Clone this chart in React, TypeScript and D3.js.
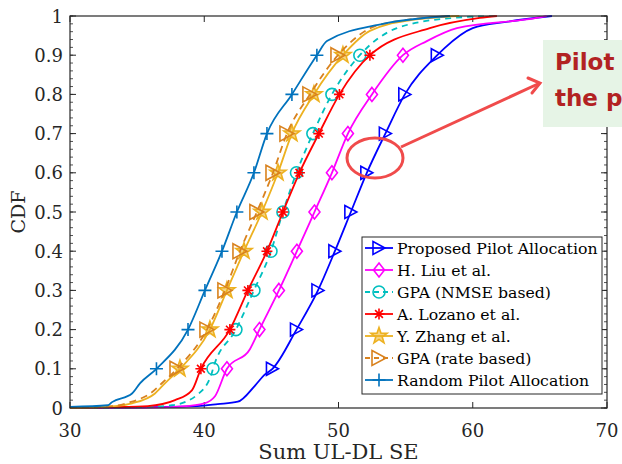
import React from "react";
import * as d3 from "d3";

// CDF curves, [Sum UL-DL SE, CDF]
const proposedPts: [number, number][] = [
  [30, 0], [36, 0.002], [39.5, 0.005], [41, 0.01], [42.5, 0.016], [43.8, 0.058], [44.5, 0.085],
  [45.08, 0.1], [46.87, 0.2], [48.47, 0.3], [49.73, 0.4], [50.92, 0.5], [52.11, 0.6],
  [53.49, 0.7], [54.94, 0.8], [57.36, 0.9], [57.9, 0.918], [60.0, 0.969], [62.5, 0.985], [65.9, 1],
];
const liuPts: [number, number][] = [
  [30, 0], [36, 0.001], [38.3, 0.004], [40.0, 0.012], [40.8, 0.03], [41.69, 0.1], [43.4, 0.15],
  [44.11, 0.2], [45.56, 0.3], [46.9, 0.4], [48.21, 0.5], [49.51, 0.6], [50.7, 0.7],
  [52.49, 0.8], [54.8, 0.9], [56.58, 0.936], [58.82, 0.969], [64.77, 0.995], [65.5, 1],
];
const nmsePts: [number, number][] = [
  [30, 0], [35, 0.002], [37.6, 0.007], [39.53, 0.035], [40.57, 0.09], [40.65, 0.1],
  [42.36, 0.2], [43.7, 0.3], [44.97, 0.4], [45.86, 0.5], [46.87, 0.6], [48.09, 0.7],
  [49.51, 0.8], [51.59, 0.9], [54.35, 0.969], [58.52, 0.995], [61.8, 1],
];
const lozanoPts: [number, number][] = [
  [30, 0], [33, 0.002], [35.8, 0.005], [37.82, 0.02], [39.08, 0.045], [39.75, 0.1],
  [41.91, 0.2], [43.25, 0.3], [44.67, 0.4], [45.86, 0.5], [47.09, 0.6], [48.54, 0.7],
  [50.07, 0.8], [52.34, 0.9], [56.8, 0.969], [60.53, 0.995], [61.8, 1],
];
const zhangPts: [number, number][] = [
  [30, 0], [33.35, 0.005], [34.62, 0.012], [36.33, 0.037], [37.07, 0.063], [38.19, 0.1],
  [40.42, 0.2], [41.69, 0.3], [42.96, 0.4], [44.3, 0.5], [45.49, 0.6], [46.53, 0.7],
  [48.17, 0.8], [50.33, 0.9], [52.34, 0.962], [55.5, 0.99], [59, 1],
];
const ratePts: [number, number][] = [
  [30, 0], [33.2, 0.005], [34.4, 0.014], [36.1, 0.04], [36.9, 0.065], [37.97, 0.1],
  [40.2, 0.2], [41.54, 0.3], [42.66, 0.4], [43.92, 0.5], [45.12, 0.6], [46.16, 0.7],
  [47.87, 0.8], [49.96, 0.9], [53.08, 0.978], [58.5, 1],
];
const randomPts: [number, number][] = [
  [30, 0.003], [32.83, 0.007], [33.13, 0.015], [34.62, 0.037], [35.21, 0.063], [36.44, 0.1],
  [38.79, 0.2], [40.05, 0.3], [41.32, 0.4], [42.43, 0.5], [43.7, 0.6], [44.67, 0.7],
  [46.53, 0.8], [48.39, 0.9], [49.14, 0.936], [53.3, 0.98], [58.3, 1],
];

const markLevels = [0.1, 0.2, 0.3, 0.4, 0.5, 0.6, 0.7, 0.8, 0.9];
const xTicks = [30, 40, 50, 60, 70];
const yTicks = [0, 0.1, 0.2, 0.3, 0.4, 0.5, 0.6, 0.7, 0.8, 0.9, 1];

const seriesNames = [
  "Proposed Pilot Allocation",
  "H. Liu et al.",
  "GPA (NMSE based)",
  "A. Lozano et al.",
  "Y. Zhang et al.",
  "GPA (rate based)",
  "Random Pilot Allocation",
];

const series = [
  { name: seriesNames[0], pts: proposedPts, color: "#0000FF", marker: "tri", dash: null },
  { name: seriesNames[1], pts: liuPts, color: "#FF00FF", marker: "diamond", dash: null },
  { name: seriesNames[2], pts: nmsePts, color: "#00BFBF", marker: "circle", dash: "6,5" },
  { name: seriesNames[3], pts: lozanoPts, color: "#FF0000", marker: "asterisk", dash: null },
  { name: seriesNames[4], pts: zhangPts, color: "#EDB120", marker: "star", dash: null },
  { name: seriesNames[5], pts: ratePts, color: "#D9821E", marker: "tri2", dash: "7,5" },
  { name: seriesNames[6], pts: randomPts, color: "#0072BD", marker: "plus", dash: null },
];

const W = 622;
const H = 464;
const left = 70, right = 607, top = 16, bottom = 408;

const x = d3.scaleLinear().domain([30, 70]).range([left, right]);
const y = d3.scaleLinear().domain([0, 1]).range([bottom, top]);

const serif = "'DejaVu Serif', serif";

function markerPath(kind: string, cx: number, cy: number) {
  const p = d3.path();
  if (kind === "tri" || kind === "tri2") {
    const a = kind === "tri" ? 6 : 7;
    p.moveTo(cx - a, cy - a - 0.5);
    p.lineTo(cx + a, cy);
    p.lineTo(cx - a, cy + a + 0.5);
    p.closePath();
  } else if (kind === "diamond") {
    p.moveTo(cx, cy - 7);
    p.lineTo(cx + 5.5, cy);
    p.lineTo(cx, cy + 7);
    p.lineTo(cx - 5.5, cy);
    p.closePath();
  } else if (kind === "circle") {
    p.moveTo(cx + 6, cy);
    p.arc(cx, cy, 6, 0, Math.PI * 2);
  } else if (kind === "asterisk") {
    const r = 5.5;
    for (let k = 0; k < 4; k++) {
      const ang = (k * Math.PI) / 4;
      p.moveTo(cx - r * Math.cos(ang), cy - r * Math.sin(ang));
      p.lineTo(cx + r * Math.cos(ang), cy + r * Math.sin(ang));
    }
  } else if (kind === "star") {
    const ro = 8.5, ri = 3.4;
    for (let k = 0; k < 10; k++) {
      const r = k % 2 === 0 ? ro : ri;
      const ang = -Math.PI / 2 + (k * Math.PI) / 5;
      const px = cx + r * Math.cos(ang), py = cy + r * Math.sin(ang);
      if (k === 0) p.moveTo(px, py);
      else p.lineTo(px, py);
    }
    p.closePath();
  } else if (kind === "plus") {
    p.moveTo(cx - 6.5, cy);
    p.lineTo(cx + 6.5, cy);
    p.moveTo(cx, cy - 6.5);
    p.lineTo(cx, cy + 6.5);
  }
  return p.toString();
}

const Marker = ({ kind, cx, cy, color }: { kind: string; cx: number; cy: number; color: string }) => (
  <path
    d={markerPath(kind, cx, cy)}
    fill={kind === "star" ? color : "none"}
    fillOpacity={kind === "star" ? 0.55 : 0}
    stroke={color}
    strokeWidth={1.6}
    strokeLinejoin="miter"
  />
);

const App = () => {
  const line = d3
    .line<[number, number]>()
    .x((d) => x(d[0]))
    .y((d) => y(d[1]))
    .curve(d3.curveMonotoneX);

  const minorY = d3.range(0, 1.0001, 0.02);

  // legend geometry
  const lgX = 362, lgY = 237, lgW = 240, lgH = 157, rowH = 22;

  return (
    <svg
      width={W}
      height={H}
      style={{ position: "absolute", left: 0, top: 0, background: "#fff" }}
    >
      <rect x={0} y={0} width={W} height={H} fill="#fff" />

      {/* minor y ticks, left and right */}
      {minorY.map((v, i) => (
        <g key={"my" + i} stroke="#262626" strokeWidth={0.8}>
          <line x1={left} x2={left + 3} y1={y(v)} y2={y(v)} />
          <line x1={right} x2={right - 3} y1={y(v)} y2={y(v)} />
        </g>
      ))}
      {yTicks.map((v) => (
        <g key={"yt" + v}>
          <line x1={left} x2={left + 6} y1={y(v)} y2={y(v)} stroke="#262626" strokeWidth={1} />
          <line x1={right} x2={right - 6} y1={y(v)} y2={y(v)} stroke="#262626" strokeWidth={1} />
          <text
            x={63}
            y={y(v) + 6.5}
            textAnchor="end"
            fontFamily={serif}
            fontSize={18}
            fill="#262626"
          >
            {v === 0 || v === 1 ? String(v) : v.toFixed(1)}
          </text>
        </g>
      ))}
      {xTicks.map((v) => (
        <g key={"xt" + v}>
          <line x1={x(v)} x2={x(v)} y1={bottom} y2={bottom - 6} stroke="#262626" strokeWidth={1} />
          <line x1={x(v)} x2={x(v)} y1={top} y2={top + 6} stroke="#262626" strokeWidth={1} />
          <text
            x={x(v)}
            y={437}
            textAnchor="middle"
            fontFamily={serif}
            fontSize={18}
            fill="#262626"
          >
            {v}
          </text>
        </g>
      ))}

      {/* curves */}
      {series.map((s) => (
        <g key={s.name}>
          <path
            d={line(s.pts) || ""}
            fill="none"
            stroke={s.color}
            strokeWidth={1.8}
            strokeDasharray={s.dash || undefined}
          />
          {s.pts
            .filter((d) => markLevels.some((m) => Math.abs(m - d[1]) < 1e-9))
            .map((d, i) => (
              <Marker key={i} kind={s.marker} cx={x(d[0])} cy={y(d[1])} color={s.color} />
            ))}
        </g>
      ))}

      {/* frame */}
      <rect
        x={left}
        y={top}
        width={right - left}
        height={bottom - top}
        fill="none"
        stroke="#262626"
        strokeWidth={1.2}
      />

      {/* axis titles */}
      <text
        x={(left + right) / 2}
        y={459}
        textAnchor="middle"
        fontFamily={serif}
        fontSize={21}
        fill="#262626"
      >
        Sum UL-DL SE
      </text>
      <text
        transform={`translate(25, ${(top + bottom) / 2}) rotate(-90)`}
        textAnchor="middle"
        fontFamily={serif}
        fontSize={19}
        fill="#262626"
      >
        CDF
      </text>

      {/* legend */}
      <rect x={lgX} y={lgY} width={lgW} height={lgH} fill="#fff" stroke="#262626" strokeWidth={1} />
      {series.map((s, i) => {
        const cy = lgY + 11 + rowH * i;
        return (
          <g key={"lg" + i}>
            <line
              x1={lgX + 3}
              x2={lgX + 31}
              y1={cy}
              y2={cy}
              stroke={s.color}
              strokeWidth={1.8}
              strokeDasharray={s.dash ? "5,4" : undefined}
            />
            <Marker kind={s.marker} cx={lgX + 17} cy={cy} color={s.color} />
            <text x={lgX + 35} y={cy + 5.5} fontFamily={serif} fontSize={15.7} fill="#000">
              {s.name}
            </text>
          </g>
        );
      })}

      {/* annotation */}
      <ellipse cx={375} cy={158} rx={28} ry={20} fill="none" stroke="#F04B4B" strokeWidth={3} />
      <line x1={401} y1={147} x2={540} y2={83} stroke="#F04B4B" strokeWidth={3} />
      <path d="M528,78 L540,83 L532,93" fill="none" stroke="#F04B4B" strokeWidth={3} strokeLinecap="round" />
      <rect x={543} y={40} width={90} height={87} fill="#E6F4E6" />
      <text x={555} y={70} fontFamily="'DejaVu Sans', sans-serif" fontWeight="bold" fontSize={23} fill="#B22222">
        Pilot
      </text>
      <text x={555} y={106} fontFamily="'DejaVu Sans', sans-serif" fontWeight="bold" fontSize={23} fill="#B22222">
        the p
      </text>
    </svg>
  );
};

export default App;
